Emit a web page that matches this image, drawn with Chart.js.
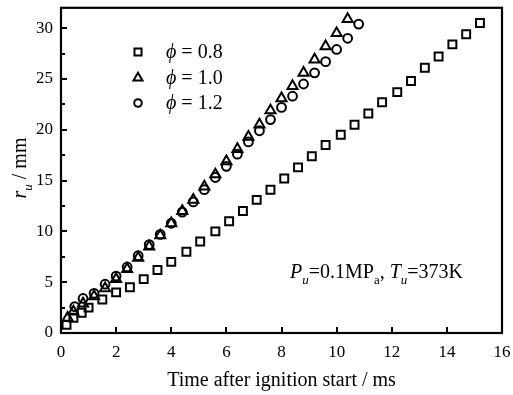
<!DOCTYPE html>
<html>
<head>
<meta charset="utf-8">
<script src="https://cdn.jsdelivr.net/npm/chart.js@4.4.1/dist/chart.umd.min.js"></script>
<style>
html,body{margin:0;padding:0;background:#fff;}
#wrap{width:513px;height:395px;position:relative;}
</style>
</head>
<body>
<div id="wrap"><canvas id="c" width="513" height="395"></canvas></div>
<script>
// ---- data ----
const xTicks = [0, 2, 4, 6, 8, 10, 12, 14, 16];
const yTicks = [0, 5, 10, 15, 20, 25, 30];
const seriesNames = ['0.8', '1.0', '1.2'];

const t08 = [0.2,0.45,0.75,1.0,1.5,2.0,2.5,3.0,3.5,4.0,4.55,5.05,5.6,6.1,6.6,7.1,7.6,8.1,8.6,9.1,9.6,10.15,10.65,11.15,11.65,12.2,12.7,13.2,13.7,14.2,14.7,15.2];
const r08 = [0.8,1.5,2.0,2.5,3.3,4.0,4.5,5.3,6.2,7.0,8.0,9.0,10.0,11.0,12.0,13.1,14.1,15.2,16.3,17.4,18.5,19.5,20.5,21.6,22.7,23.7,24.8,26.1,27.2,28.4,29.4,30.5];

const t10 = [0.24,0.45,0.8,1.2,1.6,2.0,2.4,2.8,3.2,3.6,4.0,4.4,4.8,5.2,5.6,6.0,6.4,6.8,7.2,7.6,8.0,8.4,8.8,9.2,9.6,10.0,10.4];
const r10 = [1.5,2.1,2.9,3.6,4.4,5.3,6.3,7.4,8.5,9.6,10.8,12.0,13.1,14.4,15.6,16.9,18.1,19.3,20.5,21.9,23.1,24.3,25.6,26.9,28.2,29.5,30.9];

const t12 = [0.5,0.8,1.2,1.6,2.0,2.4,2.8,3.2,3.6,4.0,4.4,4.8,5.2,5.6,6.0,6.4,6.8,7.2,7.6,8.0,8.4,8.8,9.2,9.6,10.0,10.4,10.8];
const r12 = [2.6,3.4,3.9,4.8,5.6,6.5,7.6,8.7,9.7,10.8,11.9,12.9,14.1,15.3,16.4,17.6,18.8,19.9,21.0,22.2,23.3,24.5,25.6,26.7,27.9,29.0,30.4];

const toXY = (xs, ys) => xs.map((x, i) => ({x: x, y: ys[i]}));

const styles = [
  {pointStyle: 'rect', pointRadius: 5.6},
  {pointStyle: 'triangle', pointRadius: 5.8},
  {pointStyle: 'circle', pointRadius: 4.4}
];

const SERIF = '"Liberation Serif", "Times New Roman", serif';
const PHI = '\u03D5';

const deco = {
  id: 'deco',
  afterDraw(chart) {
    const ctx = chart.ctx;
    const a = chart.chartArea;
    const xs = chart.scales.x, ys = chart.scales.y;
    ctx.save();
    ctx.strokeStyle = '#000';
    // ticks (inward)
    ctx.lineWidth = 2;
    ctx.beginPath();
    xTicks.forEach(v => {
      const px = Math.round(xs.getPixelForValue(v));
      ctx.moveTo(px, a.bottom); ctx.lineTo(px, a.bottom - 6);
    });
    for (let v = 0; v <= 30; v += 2.5) {
      const py = Math.round(ys.getPixelForValue(v));
      const len = (v % 5 === 0) ? 6 : 4;
      ctx.moveTo(a.left, py); ctx.lineTo(a.left + len, py);
    }
    ctx.stroke();
    // frame
    ctx.lineWidth = 2.2;
    ctx.strokeRect(a.left, a.top, a.right - a.left, a.bottom - a.top);

    // legend
    const rows = [52, 78, 103];
    rows.forEach((yy, i) => {
      ctx.fillStyle = 'rgba(0,0,0,0)';
      ctx.strokeStyle = '#000';
      ctx.lineWidth = 2;
      Chart.helpers.drawPoint(ctx, {
        pointStyle: styles[i].pointStyle, radius: styles[i].pointRadius - 0.6, borderWidth: 2
      }, 138, yy);
      ctx.fillStyle = '#000';
      ctx.textBaseline = 'middle';
      ctx.textAlign = 'left';
      ctx.font = 'italic 20px ' + SERIF;
      ctx.fillText(PHI, 166, yy + 1);
      let w = ctx.measureText(PHI).width;
      ctx.font = '20px ' + SERIF;
      ctx.fillText(' = ' + seriesNames[i], 166 + w, yy + 1);
    });

    // annotation  P_u=0.1MP_a, T_u=373K
    const parts = [
      {t: 'P', f: 'italic 20px', dy: 0},
      {t: 'u', f: 'italic 13px', dy: 6},
      {t: '=0.1MP', f: '20px', dy: 0},
      {t: 'a', f: '13px', dy: 6},
      {t: ', ', f: '20px', dy: 0},
      {t: 'T', f: 'italic 20px', dy: 0},
      {t: 'u', f: 'italic 13px', dy: 6},
      {t: '=373K', f: '20px', dy: 0}
    ];
    let x = 290;
    const base = 278;
    ctx.fillStyle = '#000';
    ctx.textBaseline = 'alphabetic';
    ctx.textAlign = 'left';
    parts.forEach(p => {
      ctx.font = p.f + ' ' + SERIF;
      ctx.fillText(p.t, x, base + p.dy);
      x += ctx.measureText(p.t).width;
    });

    // y axis title: r_u / mm (rotated)
    ctx.save();
    ctx.translate(26, 168);
    ctx.rotate(-Math.PI / 2);
    const yparts = [
      {t: 'r', f: 'italic 20px', dy: 0},
      {t: 'u', f: 'italic 13px', dy: 6},
      {t: ' / mm', f: '20px', dy: 0}
    ];
    let tw = 0;
    yparts.forEach(p => { ctx.font = p.f + ' ' + SERIF; tw += ctx.measureText(p.t).width; });
    let xx = -tw / 2;
    yparts.forEach(p => {
      ctx.font = p.f + ' ' + SERIF;
      ctx.fillText(p.t, xx, p.dy);
      xx += ctx.measureText(p.t).width;
    });
    ctx.restore();

    // x axis title
    ctx.font = '20px ' + SERIF;
    ctx.textAlign = 'center';
    ctx.fillText('Time after ignition start / ms', (a.left + a.right) / 2, 386);
    ctx.restore();
  }
};

new Chart(document.getElementById('c'), {
  type: 'scatter',
  data: {
    datasets: [
      {label: PHI + ' = 0.8', data: toXY(t08, r08)},
      {label: PHI + ' = 1.0', data: toXY(t10, r10)},
      {label: PHI + ' = 1.2', data: toXY(t12, r12)}
    ].map((d, i) => Object.assign(d, {
      pointStyle: styles[i].pointStyle,
      pointRadius: styles[i].pointRadius,
      pointBorderWidth: 2,
      pointBorderColor: '#000',
      pointBackgroundColor: 'rgba(0,0,0,0)',
      showLine: false
    }))
  },
  options: {
    responsive: false,
    animation: false,
    layout: {padding: {left: 0, top: 5, right: 11, bottom: 0}},
    plugins: {legend: {display: false}, tooltip: {enabled: false}},
    scales: {
      x: {
        type: 'linear', min: 0, max: 16,
        afterBuildTicks: s => { s.ticks = xTicks.map(v => ({value: v})); },
        afterFit: s => { s.height = 62; s.paddingLeft = 0; s.paddingRight = 0; },
        grid: {display: false, drawTicks: false},
        border: {display: false},
        ticks: {color: '#000', font: {family: SERIF, size: 17}, padding: 9, maxRotation: 0}
      },
      y: {
        type: 'linear', min: 0, max: 32,
        afterBuildTicks: s => { s.ticks = yTicks.map(v => ({value: v})); },
        afterFit: s => { s.width = 61; s.paddingTop = 0; s.paddingBottom = 0; },
        grid: {display: false, drawTicks: false},
        border: {display: false},
        ticks: {color: '#000', font: {family: SERIF, size: 17}, padding: 8}
      }
    }
  },
  plugins: [deco]
});
</script>
</body>
</html>
